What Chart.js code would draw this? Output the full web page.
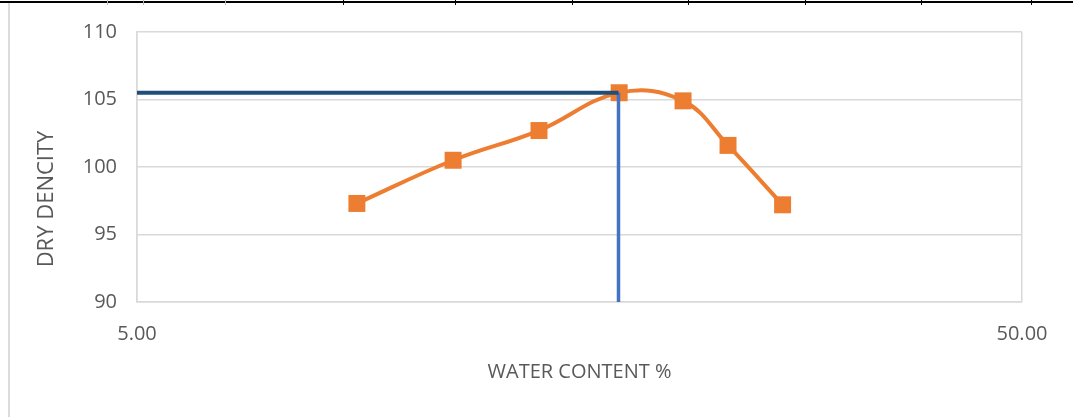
<!DOCTYPE html>
<html>
<head>
<meta charset="utf-8">
<script src="https://cdn.jsdelivr.net/npm/chart.js@4.4.1/dist/chart.umd.min.js"></script>
<style>
  html, body { margin: 0; padding: 0; background: #fff; }
  #wrap { position: relative; width: 1073px; height: 417px; overflow: hidden; background: #fff; }
  canvas { position: absolute; left: 0; top: 0; }
  .rule { position: absolute; }
</style>
</head>
<body>
<div id="wrap">
  <canvas id="chart" width="1073" height="417"></canvas>
  <!-- bits of the surrounding document table -->
  <div class="rule" style="left:0;top:1px;width:1073px;height:2px;background:#000"></div>
  <div class="rule" style="left:8px;top:3px;width:2px;height:414px;background:#dcdcdc"></div>
  <div class="rule" style="left:107px;top:0;width:1px;height:5px;background:#bbb"></div>
  <div class="rule" style="left:143px;top:0;width:1px;height:5px;background:#bbb"></div>
  <div class="rule" style="left:225px;top:0;width:1px;height:5px;background:#bbb"></div>
  <div class="rule" style="left:343px;top:0;width:1px;height:5px;background:#000"></div>
  <div class="rule" style="left:455px;top:0;width:1px;height:5px;background:#000"></div>
  <div class="rule" style="left:572px;top:0;width:1px;height:5px;background:#000"></div>
  <div class="rule" style="left:688px;top:0;width:1px;height:5px;background:#000"></div>
  <div class="rule" style="left:805px;top:0;width:1px;height:5px;background:#000"></div>
  <div class="rule" style="left:921px;top:0;width:1px;height:5px;background:#000"></div>
  <div class="rule" style="left:1031px;top:0;width:1px;height:5px;background:#000"></div>
</div>
<script>
// compaction test readings
const waterContent = [8.86, 11.38, 14.23, 17.53, 20.70, 23.27, 26.82];
const dryDensity = [97.3, 100.5, 102.7, 105.5, 104.9, 101.6, 97.2];

// optimum moisture content / max dry density guide lines
const optimumWater = 17.5;
const maxDryDensity = 105.5;

const xTicks = [5, 50];
const yMin = 90;
const yMax = 110;
const yStep = 5;

const FONT = '"Open Sans", "Liberation Sans", sans-serif';
const GREY_TEXT = '#595959';
const GRID = '#d9d9d9';

const points = waterContent.map((w, i) => ({ x: w, y: dryDensity[i] }));

// y axis title sits a bit below the middle of the axis, draw it by hand
const yTitlePlugin = {
  id: 'yTitle',
  afterDraw(chart) {
    const ctx = chart.ctx;
    ctx.save();
    ctx.translate(47, 199);
    ctx.rotate(-Math.PI / 2);
    ctx.font = '22px ' + FONT;
    ctx.fillStyle = GREY_TEXT;
    ctx.textAlign = 'center';
    ctx.textBaseline = 'middle';
    ctx.fillText('DRY DENCITY', 0, 0);
    ctx.restore();
  }
};

new Chart(document.getElementById('chart'), {
  type: 'scatter',
  data: {
    datasets: [
      {
        label: 'max dry density',
        data: [{ x: xTicks[0], y: maxDryDensity }, { x: optimumWater, y: maxDryDensity }],
        showLine: true,
        borderColor: '#1f4e79',
        borderWidth: 4,
        pointRadius: 0,
        order: 0,
      },
      {
        label: 'optimum water content',
        data: [{ x: optimumWater, y: maxDryDensity }, { x: optimumWater, y: yMin }],
        showLine: true,
        borderColor: '#4472c4',
        borderWidth: 3.5,
        pointRadius: 0,
        order: 0,
      },
      {
        label: 'dry density',
        data: points,
        showLine: true,
        borderColor: '#ed7d31',
        backgroundColor: '#ed7d31',
        borderWidth: 4,
        tension: 0.4,
        pointStyle: 'rect',
        pointRadius: 12,
        pointBorderWidth: 0,
        order: 1,
      },
    ],
  },
  options: {
    responsive: false,
    animation: false,
    devicePixelRatio: 1,
    layout: { padding: { top: 31, right: 51, left: 0, bottom: 0 } },
    plugins: {
      legend: { display: false },
      tooltip: { enabled: false },
    },
    scales: {
      x: {
        type: 'logarithmic',
        min: xTicks[0],
        max: xTicks[xTicks.length - 1],
        afterBuildTicks: s => { s.ticks = xTicks.map(v => ({ value: v })); },
        afterFit: s => { s.height = 115; },
        grid: { color: GRID, lineWidth: 1.5, drawTicks: false },
        border: { color: GRID, width: 1.5 },
        ticks: {
          padding: 20,
          color: GREY_TEXT,
          font: { family: FONT, size: 20 },
          maxRotation: 0,
          callback: v => Number(v).toFixed(2),
        },
        title: {
          display: true,
          text: 'WATER CONTENT %',
          color: GREY_TEXT,
          font: { family: FONT, size: 20 },
          padding: { top: 0, bottom: 33 },
        },
      },
      y: {
        min: yMin,
        max: yMax,
        afterFit: s => { s.width = 137; },
        grid: { color: GRID, lineWidth: 1.5, drawTicks: false },
        border: { color: GRID, width: 1.5 },
        ticks: {
          stepSize: yStep,
          padding: 20,
          color: GREY_TEXT,
          font: { family: FONT, size: 20 },
        },
      },
    },
  },
  plugins: [yTitlePlugin],
});
</script>
</body>
</html>
